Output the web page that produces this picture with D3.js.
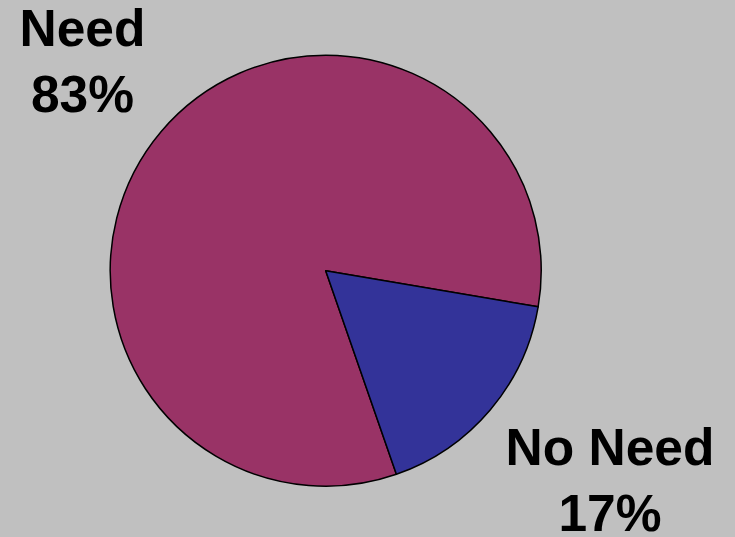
<!DOCTYPE html>
<html>
<head>
<meta charset="utf-8">
<script src="https://cdn.jsdelivr.net/npm/d3@7"></script>
<style>
  html, body { margin: 0; padding: 0; background: #c0c0c0; }
  svg { display: block; }
</style>
</head>
<body>
<svg id="chart" width="735" height="537"></svg>
<script>
// Share of respondents by need
const categories = ["Need", "No Need"];
const shares = [83, 17];
const sliceColors = ["#993366", "#333399"];
const labelLines = [["Need", "83%"], ["No Need", "17%"]];

const width = 735, height = 537;
const cx = 325.7, cy = 270.7, radius = 215.5;

const svg = d3.select("#chart");
svg.append("rect").attr("width", width).attr("height", height).attr("fill", "#c0c0c0");

const data = categories.map((c, i) => ({ name: c, value: shares[i], color: sliceColors[i], lines: labelLines[i] }));

const start = 160.85 * Math.PI / 180;
const pie = d3.pie().sort(null).value(d => d.value)
  .startAngle(start).endAngle(start + 2 * Math.PI);
const arc = d3.arc().innerRadius(0).outerRadius(radius);

const g = svg.append("g").attr("transform", `translate(${cx},${cy})`);
g.selectAll("path")
  .data(pie(data))
  .join("path")
  .attr("d", arc)
  .attr("fill", d => d.data.color)
  .attr("stroke", "#000")
  .attr("stroke-width", 1.5)
  .attr("stroke-linejoin", "round");

// Labels sit outside the pie
const labelPos = [{ x: 82.5, y: 46 }, { x: 610, y: 465 }];
const lineGap = 66;
data.forEach((d, i) => {
  const t = svg.append("text")
    .attr("text-anchor", "middle")
    .attr("font-family", "'Liberation Sans', Arial, sans-serif")
    .attr("font-weight", "bold")
    .attr("font-size", 51.5)
    .attr("fill", "#000");
  d.lines.forEach((line, j) => {
    t.append("tspan")
      .attr("x", labelPos[i].x)
      .attr("y", labelPos[i].y + j * lineGap)
      .text(line);
  });
});
</script>
</body>
</html>
